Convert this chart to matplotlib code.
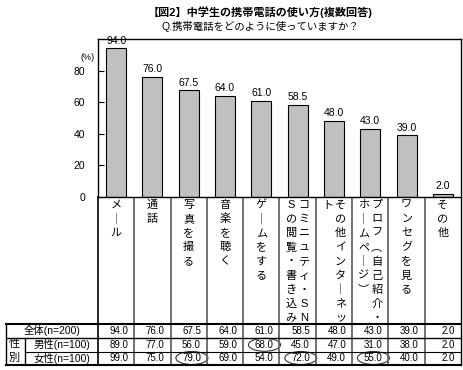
import matplotlib

matplotlib.use("Agg")
import matplotlib.pyplot as plt
from matplotlib.patches import Ellipse

plt.rcParams["font.family"] = ["Liberation Sans", "Noto Sans CJK JP", "DejaVu Sans"]

W, H = 464, 370

title = "【図2】中学生の携帯電話の使い方(複数回答)"
subtitle = "Q.携帯電話をどのように使っていますか？"

categories = [
    "メール",
    "通話",
    "写真を撮る",
    "音楽を聴く",
    "ゲームをする",
    "コミニュティ・SNSの閲覧・書き込み",
    "その他インターネット",
    "プロフ（自己紹介・ホームページ）",
    "ワンセグを見る",
    "その他",
]
overall = [94.0, 76.0, 67.5, 64.0, 61.0, 58.5, 48.0, 43.0, 39.0, 2.0]
male = [89.0, 77.0, 56.0, 59.0, 68.0, 45.0, 47.0, 31.0, 38.0, 2.0]
female = [99.0, 75.0, 79.0, 69.0, 54.0, 72.0, 49.0, 55.0, 40.0, 2.0]
row_labels = ["全体(n=200)", "男性(n=100)", "女性(n=100)"]
# (row, column) cells circled in the table
circled = [(1, 4), (2, 2), (2, 5), (2, 7)]
y_ticks = [0, 20, 40, 60, 80]

# vertical writing: swap a few glyphs for their vertical forms
VERT = {"ー": "｜", "（": "︵", "）": "︶"}

fig = plt.figure(figsize=(W / 100, H / 100), dpi=100)

# layout in pixels
left, right, top, base = 98, 461, 39, 197
col_w = (right - left) / len(categories)

ax = fig.add_axes([left / W, 1 - base / H, (right - left) / W, (base - top) / H])
x = list(range(len(categories)))
ax.bar(x, overall, width=0.55, color="#C0C0C0", edgecolor="black", linewidth=0.8)
for xi, v in zip(x, overall):
    ax.annotate(f"{v:.1f}", (xi, v), xytext=(0, 2), textcoords="offset points",
                ha="center", va="bottom", fontsize=7.5, clip_on=False, zorder=5)
ax.set_xlim(-0.5, len(categories) - 0.5)
ax.set_ylim(0, 100)
ax.set_yticks(y_ticks)
ax.set_xticks([])
ax.tick_params(axis="y", direction="in", length=4, pad=9, labelsize=7.5)
for s in ax.spines.values():
    s.set_linewidth(1.0)

# overlay in pixel coordinates for titles and the table
ov = fig.add_axes([0, 0, 1, 1], zorder=-1)
ov.set_xlim(0, W)
ov.set_ylim(H, 0)
ov.axis("off")

ov.text(260, 12, title, ha="center", va="center", fontsize=8, fontweight="bold")
ov.text(260, 26, subtitle, ha="center", va="center", fontsize=7.5)
ov.text(88, 57, "(%)", ha="center", va="center", fontsize=6.5)

# category labels, written vertically, right column first
step = 14.1
for i, label in enumerate(categories):
    chars = [VERT.get(c, c) for c in label]
    cols = [chars[k:k + 9] for k in range(0, len(chars), 9)]
    cx = left + (i + 0.5) * col_w
    n = len(cols)
    for j, col in enumerate(cols):
        xx = cx + ((n - 1) / 2 - j) * 13
        for k, ch in enumerate(col):
            ov.text(xx, 205 + k * step, ch, ha="center", va="center", fontsize=8)

# table grid
t_top, r1, r2, t_bot = 324, 338, 351.5, 364.5
grid_c = "#666666"
for k in range(1, len(categories)):
    xe = left + k * col_w
    ov.plot([xe, xe], [base, t_bot], color=grid_c, lw=1.3)
ov.plot([left, left], [base, t_bot], color="black", lw=1.2)
ov.plot([right, right], [base, t_bot], color="black", lw=1.0)
ov.plot([6, right], [t_top, t_top], color="black", lw=1.5)
ov.plot([6, right], [r1, r1], color="black", lw=1.0)
ov.plot([25, right], [r2, r2], color="black", lw=0.8)
ov.plot([6, right], [t_bot, t_bot], color="black", lw=1.5)
ov.plot([6, 6], [t_top, t_bot], color="black", lw=1.0)
ov.plot([25, 25], [r1, t_bot], color="black", lw=1.0)

ov.text(14, 344.5, "性", ha="center", va="center", fontsize=8)
ov.text(14, 358, "別", ha="center", va="center", fontsize=8)
row_y = [331, 344.8, 358]
ov.text(52, row_y[0], row_labels[0], ha="center", va="center", fontsize=7.5)
ov.text(62, row_y[1], row_labels[1], ha="center", va="center", fontsize=7.5)
ov.text(62, row_y[2], row_labels[2], ha="center", va="center", fontsize=7.5)

for r, vals in enumerate([overall, male, female]):
    for i, v in enumerate(vals):
        ov.text(left + (i + 1) * col_w - 6, row_y[r], f"{v:.1f}",
                ha="right", va="center", fontsize=7)

for r, i in circled:
    cx = left + (i + 1) * col_w - 15
    ov.add_patch(Ellipse((cx, row_y[r]), 32, 13, fill=False,
                         edgecolor="#333333", lw=0.8))

fig.savefig("out.png", dpi=100)
